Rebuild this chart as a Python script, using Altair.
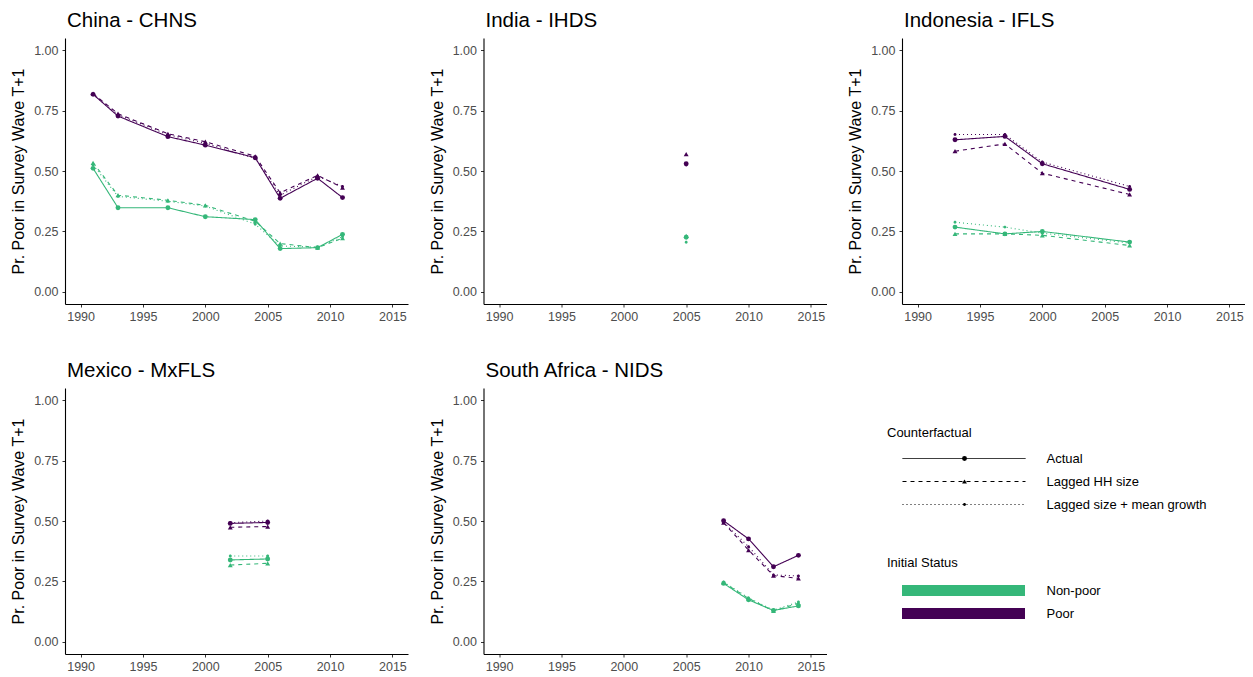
import altair as alt
import pandas as pd

FONT = "Liberation Sans"

statuses = ["Non-poor", "Poor"]
status_colors = ["#35B779", "#440154"]
counterfactuals = ["Actual", "Lagged HH size", "Lagged size + mean growth"]

x_ticks = [1990, 1995, 2000, 2005, 2010, 2015]
y_ticks = [0.0, 0.25, 0.5, 0.75, 1.0]

# China - CHNS
china_years = [1991, 1993, 1997, 2000, 2004, 2006, 2009, 2011]
china_poor_actual = [0.817, 0.727, 0.642, 0.607, 0.555, 0.387, 0.470, 0.390]
china_poor_lagged = [0.820, 0.737, 0.654, 0.621, 0.561, 0.410, 0.482, 0.431]
china_poor_growth = [0.818, 0.733, 0.650, 0.615, 0.552, 0.400, 0.478, 0.436]
china_nonpoor_actual = [0.511, 0.348, 0.348, 0.311, 0.299, 0.179, 0.183, 0.238]
china_nonpoor_lagged = [0.534, 0.400, 0.379, 0.358, 0.292, 0.200, 0.183, 0.222]
china_nonpoor_growth = [0.525, 0.395, 0.375, 0.355, 0.280, 0.190, 0.185, 0.228]

# India - IHDS
india_years = [2005]
india_poor_actual = [0.530]
india_poor_lagged = [0.570]
india_poor_growth = [0.525]
india_nonpoor_actual = [0.226]
india_nonpoor_lagged = [0.232]
india_nonpoor_growth = [0.205]

# Indonesia - IFLS
indonesia_years = [1993, 1997, 2000, 2007]
indonesia_poor_actual = [0.629, 0.643, 0.530, 0.424]
indonesia_poor_lagged = [0.582, 0.612, 0.491, 0.403]
indonesia_poor_growth = [0.651, 0.651, 0.537, 0.436]
indonesia_nonpoor_actual = [0.268, 0.240, 0.250, 0.206]
indonesia_nonpoor_lagged = [0.240, 0.240, 0.234, 0.192]
indonesia_nonpoor_growth = [0.288, 0.268, 0.243, 0.202]

# Mexico - MxFLS
mexico_years = [2002, 2005]
mexico_poor_actual = [0.490, 0.494]
mexico_poor_lagged = [0.474, 0.477]
mexico_poor_growth = [0.493, 0.500]
mexico_nonpoor_actual = [0.339, 0.343]
mexico_nonpoor_lagged = [0.318, 0.325]
mexico_nonpoor_growth = [0.355, 0.355]

# South Africa - NIDS
sa_years = [2008, 2010, 2012, 2014]
sa_poor_actual = [0.501, 0.426, 0.311, 0.358]
sa_poor_lagged = [0.493, 0.380, 0.274, 0.263]
sa_poor_growth = [0.495, 0.394, 0.277, 0.273]
sa_nonpoor_actual = [0.242, 0.174, 0.130, 0.149]
sa_nonpoor_lagged = [0.245, 0.180, 0.128, 0.160]
sa_nonpoor_growth = [0.248, 0.182, 0.131, 0.165]

surveys = [
    ("China - CHNS", china_years,
     [china_nonpoor_actual, china_nonpoor_lagged, china_nonpoor_growth],
     [china_poor_actual, china_poor_lagged, china_poor_growth]),
    ("India - IHDS", india_years,
     [india_nonpoor_actual, india_nonpoor_lagged, india_nonpoor_growth],
     [india_poor_actual, india_poor_lagged, india_poor_growth]),
    ("Indonesia - IFLS", indonesia_years,
     [indonesia_nonpoor_actual, indonesia_nonpoor_lagged, indonesia_nonpoor_growth],
     [indonesia_poor_actual, indonesia_poor_lagged, indonesia_poor_growth]),
    ("Mexico - MxFLS", mexico_years,
     [mexico_nonpoor_actual, mexico_nonpoor_lagged, mexico_nonpoor_growth],
     [mexico_poor_actual, mexico_poor_lagged, mexico_poor_growth]),
    ("South Africa - NIDS", sa_years,
     [sa_nonpoor_actual, sa_nonpoor_lagged, sa_nonpoor_growth],
     [sa_poor_actual, sa_poor_lagged, sa_poor_growth]),
]

rows = []
for name, years, nonpoor, poor in surveys:
    for status, series in zip(statuses, [nonpoor, poor]):
        for cf, values in zip(counterfactuals, series):
            for yr, v in zip(years, values):
                rows.append({"survey": name, "year": yr, "value": v,
                             "status": status, "cf": cf, "marker": cf})
df = pd.DataFrame(rows)

PW, PH = 343, 266
LX, LY = 822, 389  # legend block origin
KEY = 123          # legend key length

x_axis = alt.Axis(values=x_ticks, format="d", title=None, labelFontSize=12.5,
                  labelPadding=3, tickSize=3)
y_axis = alt.Axis(values=y_ticks, format=".2f", title="Pr. Poor in Survey Wave T+1",
                  titleFontSize=16, titleFontWeight="normal", titleColor="black",
                  titlePadding=7, labelFontSize=12.5, labelPadding=4, tickSize=3)

common = dict(orient="none", rowPadding=9, titleFontSize=13,
              titleFontWeight="normal", labelFontSize=13, titleColor="black",
              labelColor="black", clipHeight=13, labelLimit=400)

color_legend = alt.Legend(
    title="Initial Status", legendX=LX, legendY=LY + 130,
    symbolType="stroke", symbolSize=KEY ** 2, symbolStrokeWidth=11,
    symbolOffset=9.5, labelOffset=16, titlePadding=14, **common,
)
dash_legend = alt.Legend(
    title="Counterfactual", legendX=LX, legendY=LY,
    symbolType="stroke", symbolSize=KEY ** 2, symbolStrokeWidth=1,
    symbolStrokeColor="black", symbolOffset=15, labelOffset=20.5,
    titlePadding=12, **common,
)
# point keys laid over the middle of the dash keys
shape_legend = alt.Legend(
    title="Counterfactual", legendX=LX, legendY=LY,
    symbolSize=24, symbolFillColor="black", symbolStrokeWidth=0,
    symbolOffset=15 + KEY / 2 - 5.5, labelOffset=22, titlePadding=12,
    titleOpacity=0, labelExpr="' '", **common,
)

small_dot = "M-0.6,0A0.6,0.6 0 1,1 0.6,0A0.6,0.6 0 1,1 -0.6,0Z"


def panel(name):
    base = alt.Chart(df[df["survey"] == name]).encode(
        x=alt.X("year:Q", axis=x_axis,
                scale=alt.Scale(domain=[1988.75, 2016.25], nice=False, zero=False)),
        y=alt.Y("value:Q", axis=y_axis,
                scale=alt.Scale(domain=[-0.05, 1.05], nice=False)),
        color=alt.Color("status:N", legend=color_legend,
                        scale=alt.Scale(domain=statuses, range=status_colors)),
    )
    lines = base.mark_line(strokeWidth=1.1).encode(
        strokeDash=alt.StrokeDash(
            "cf:N", legend=dash_legend,
            scale=alt.Scale(range=[[1, 0], [4, 4], [1, 3]]),
        ),
        order="year:Q",
    )
    points = base.mark_point(filled=True, opacity=1, size=24).encode(
        shape=alt.Shape(
            "marker:N", legend=shape_legend,
            scale=alt.Scale(range=["circle", "triangle-up", small_dot]),
        ),
    )
    return (lines + points).properties(
        width=PW, height=PH,
        title=alt.TitleParams(name, anchor="start", frame="group", fontSize=20.5,
                              fontWeight="normal", color="black", offset=7, dx=2),
    )


top = alt.hconcat(panel(surveys[0][0]), panel(surveys[1][0]), panel(surveys[2][0]),
                  spacing=20.5)
bottom = alt.hconcat(panel(surveys[3][0]), panel(surveys[4][0]), spacing=20.5)

chart = (
    alt.vconcat(top, bottom, spacing=37)
    .properties(padding={"left": 2, "top": 2, "right": 0, "bottom": 0})
    .configure(font=FONT)
    .configure_view(stroke=None)
    .configure_axis(grid=False, domainColor="black", domainWidth=1.1,
                    tickColor="#333333", labelColor="#4d4d4d", labelFont=FONT)
)

chart.save("out.html", embed_options={"renderer": "svg", "actions": False})
